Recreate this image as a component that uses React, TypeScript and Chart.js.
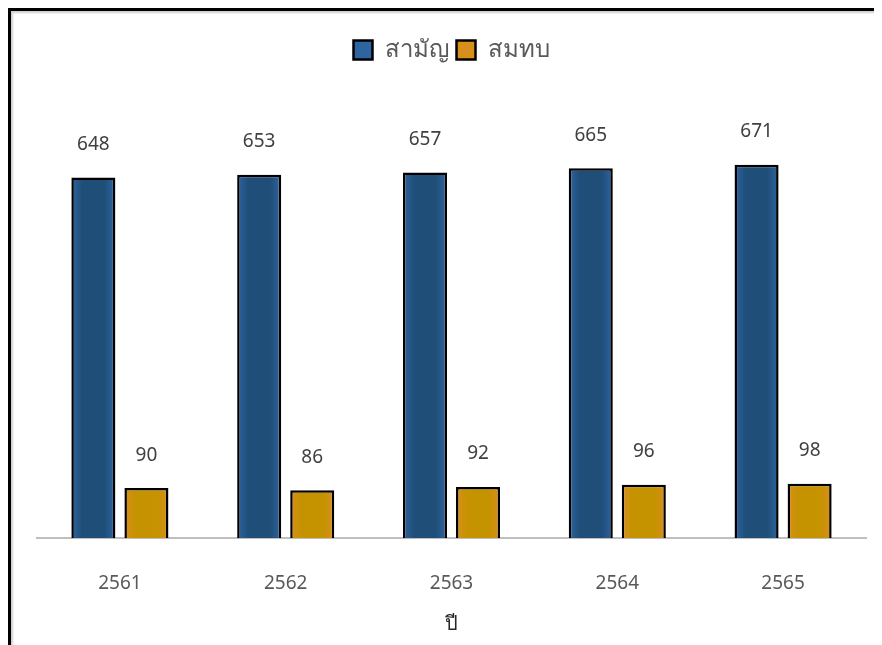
import React, { useEffect, useRef } from "react";
import { Chart, registerables } from "chart.js";

Chart.register(...registerables);

const categories = ["2561", "2562", "2563", "2564", "2565"];
const seriesNames = ["สามัญ", "สมทบ"];
const samanValues = [648, 653, 657, 665, 671];
const somtobValues = [90, 86, 92, 96, 98];
const xTitle = "ปี";

const FONT = "'Noto Sans', 'DejaVu Sans', sans-serif";
const CAT_PCT = 0.64;
const BAR_PCT = 0.83;

const valueLabels = {
  id: "valueLabels",
  afterDatasetsDraw(chart: any) {
    const ctx = chart.ctx;
    ctx.save();
    ctx.font = `19px ${FONT}`;
    ctx.fillStyle = "#404040";
    ctx.textAlign = "center";
    ctx.textBaseline = "middle";
    chart.data.datasets.forEach((ds: any, i: number) => {
      const meta = chart.getDatasetMeta(i);
      meta.data.forEach((bar: any, j: number) => {
        ctx.fillText(String(ds.data[j]), bar.x, bar.y - 33);
      });
    });
    ctx.restore();
  },
};

const legendSpace = {
  id: "legendSpace",
  beforeInit(chart: any) {
    const orig = chart.legend.fit;
    chart.legend.fit = function () {
      orig.call(this);
      this.height += 21;
    };
  },
};

function barGradient(edge: string, mid: string, legendColor: string) {
  return (c: any) => {
    if (c.type !== "data") return legendColor;
    const chart = c.chart;
    const xs = chart.scales.x;
    if (!xs || !xs.width) return mid;
    const catW = xs.width / categories.length;
    const slot = (catW * CAT_PCT) / 2;
    const cx = xs.getPixelForValue(c.dataIndex) + (c.datasetIndex === 0 ? -slot / 2 : slot / 2);
    const half = (slot * BAR_PCT) / 2;
    const g = chart.ctx.createLinearGradient(cx - half, 0, cx + half, 0);
    g.addColorStop(0, edge);
    g.addColorStop(0.25, mid);
    g.addColorStop(0.75, mid);
    g.addColorStop(1, edge);
    return g;
  };
}

export default function App() {
  const ref = useRef<HTMLCanvasElement>(null);
  useEffect(() => {
    const chart = new Chart(ref.current!, {
      type: "bar",
      data: {
        labels: categories,
        datasets: [
          {
            label: seriesNames[0],
            data: samanValues,
            backgroundColor: barGradient("#2E64A0", "#1F4E79", "#2C62A0"),
            borderColor: "#000000",
            borderWidth: 2.5,
            categoryPercentage: CAT_PCT,
            barPercentage: BAR_PCT,
          },
          {
            label: seriesNames[1],
            data: somtobValues,
            backgroundColor: barGradient("#D98F1C", "#C59200", "#D48F1A"),
            borderColor: "#000000",
            borderWidth: 2.5,
            categoryPercentage: CAT_PCT,
            barPercentage: BAR_PCT,
          },
        ],
      },
      options: {
        animation: false,
        responsive: false,
        maintainAspectRatio: false,
        layout: { padding: { left: 26, right: 16, top: 19, bottom: 9 } },
        plugins: {
          legend: {
            position: "top",
            labels: {
              font: { family: FONT, size: 24 },
              color: "#595959",
              boxWidth: 19,
              boxHeight: 19,
              padding: 8,
            },
          },
          tooltip: { enabled: false },
        },
        scales: {
          x: {
            grid: { display: false, drawTicks: false },
            border: { display: true, color: "#BFBFBF", width: 2 },
            ticks: { font: { family: FONT, size: 19 }, color: "#595959", padding: 34 },
            title: {
              display: true,
              text: xTitle,
              font: { family: FONT, size: 20 },
              color: "#262626",
              padding: { top: -17, bottom: 0 },
            },
          },
          y: {
            display: false,
            min: 0,
            max: 800,
          },
        },
      },
      plugins: [valueLabels, legendSpace],
    });
    return () => chart.destroy();
  }, []);
  return (
    <div
      style={{
        width: 871,
        height: 634,
        borderTop: "3px solid #000",
        borderLeft: "3px solid #000",
        boxShadow: "inset 2px 2px 2px #d0d0d0",
        background: "#fff",
      }}
    >
      <canvas ref={ref} width={871} height={634} style={{ display: "block" }} />
    </div>
  );
}
